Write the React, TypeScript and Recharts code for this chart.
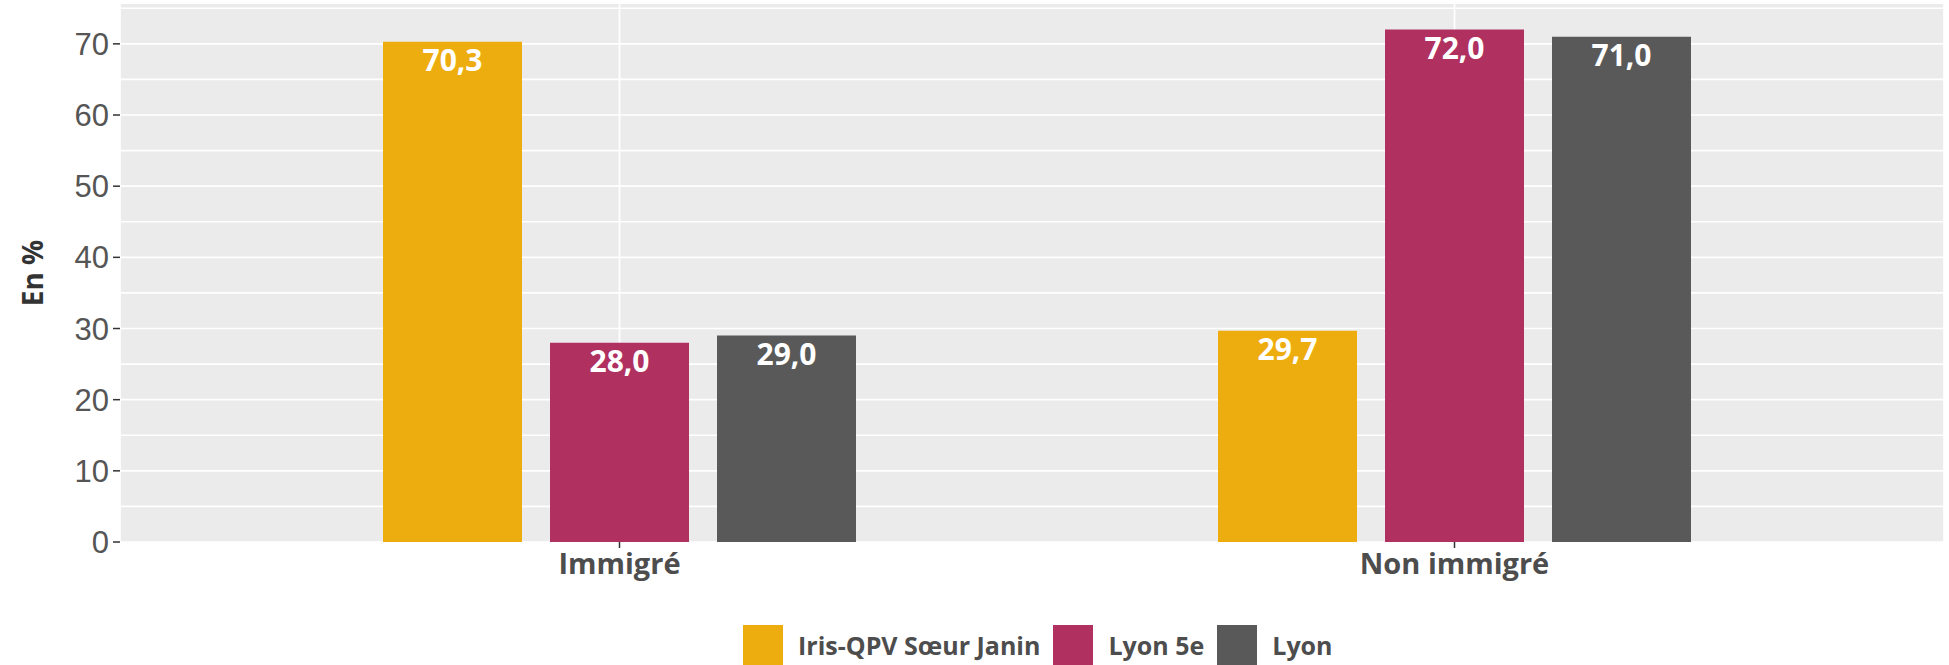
import {
  BarChart,
  Bar,
  XAxis,
  YAxis,
  CartesianGrid,
  Legend,
  LabelList,
} from "recharts";

const categories = ["Immigré", "Non immigré"];
const irisValues = [70.3, 29.7];
const lyon5Values = [28.0, 72.0];
const lyonValues = [29.0, 71.0];
const yTicks = [0, 10, 20, 30, 40, 50, 60, 70];
const gridValues = [0, 5, 10, 15, 20, 25, 30, 35, 40, 45, 50, 55, 60, 65, 70, 75];

const seriesNames = ["Iris-QPV Sœur Janin", "Lyon 5e", "Lyon"];
const seriesColors = ["#EEAD0E", "#B03060", "#595959"];
const seriesKeys = ["iris", "lyon5", "lyon"];

const data = categories.map((name, i) => ({
  name,
  iris: irisValues[i],
  lyon5: lyon5Values[i],
  lyon: lyonValues[i],
}));

const textFont = "'Open Sans', sans-serif";
const fmt = (v: any) => Number(v).toFixed(1).replace(".", ",");

const LegendContent = () => (
  <div
    style={{
      display: "flex",
      alignItems: "center",
      height: 40,
      paddingLeft: 743,
      fontFamily: textFont,
      fontWeight: 700,
      fontSize: 25,
      color: "#4d4d4d",
    }}
  >
    {seriesNames.map((n, i) => (
      <div key={n} style={{ display: "flex", alignItems: "center", marginRight: 13 }}>
        <div style={{ width: 40, height: 40, background: seriesColors[i] }} />
        <span style={{ marginLeft: 15, lineHeight: "40px" }}>{n}</span>
      </div>
    ))}
  </div>
);

const YTitle = (props: any) => {
  const vb = props.viewBox || {};
  const cx = (vb.x || 0) + 43;
  const cy = (vb.y || 0) + (vb.height || 0) / 2;
  return (
    <text
      x={cx}
      y={cy}
      transform={`rotate(-90, ${cx}, ${cy})`}
      textAnchor="middle"
      fill="#333333"
      fontFamily={textFont}
      fontWeight={700}
      fontSize={28}
    >
      En %
    </text>
  );
};

export default function App() {
  return (
    <div>
      <style>{"body{margin:0}"}</style>
      <BarChart
        width={1949}
        height={665}
        data={data}
        margin={{ top: 4, right: 5, left: 0, bottom: 0 }}
        barSize={139}
        barGap={28}
      >
        <CartesianGrid
          fill="#EBEBEB"
          fillOpacity={1}
          stroke="#FFFFFF"
          strokeWidth={1.7}
          horizontalValues={gridValues}
        />
        <XAxis
          dataKey="name"
          height={83}
          padding={{ left: 82, right: 72 }}
          axisLine={false}
          tickSize={6}
          tickMargin={5}
          tickLine={{ stroke: "#333333", strokeWidth: 1.5 }}
          tick={{
            fill: "#4d4d4d",
            fontFamily: textFont,
            fontWeight: 700,
            fontSize: 29,
          }}
        />
        <YAxis
          width={120}
          domain={[0, 75.6]}
          ticks={yTicks}
          axisLine={false}
          tickSize={7}
          tickMargin={4}
          tickLine={{ stroke: "#333333", strokeWidth: 1.5 }}
          tick={{ fill: "#555555", fontFamily: "'Liberation Sans', Arial, sans-serif", fontSize: 31 }}
          label={{ content: <YTitle /> }}
        />
        <Legend verticalAlign="bottom" content={<LegendContent />} wrapperStyle={{ left: 0, width: 1949 }} />
        {seriesKeys.map((k, i) => (
          <Bar key={k} dataKey={k} name={seriesNames[i]} fill={seriesColors[i]} isAnimationActive={false}>
            <LabelList
              dataKey={k}
              position="insideTop"
              offset={8}
              formatter={fmt}
              fill="#FFFFFF"
              fontFamily={textFont}
              fontWeight={700}
              fontSize={30}
            />
          </Bar>
        ))}
      </BarChart>
    </div>
  );
}
